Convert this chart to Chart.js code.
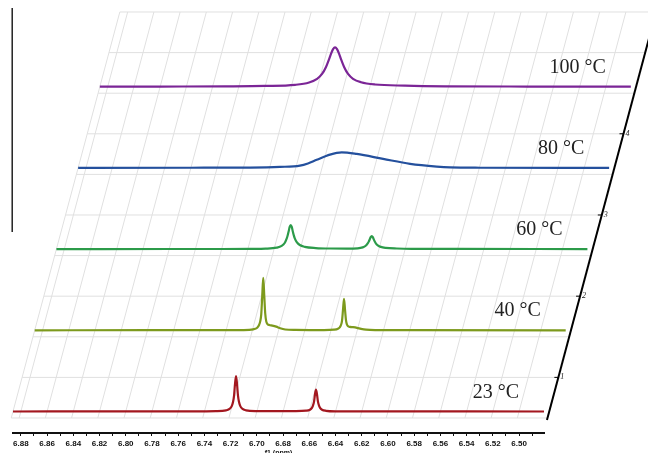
<!DOCTYPE html>
<html>
<head>
<meta charset="utf-8">
<script src="https://cdn.jsdelivr.net/npm/chart.js@4.4.1/dist/chart.umd.min.js"></script>
<style>
  html, body { margin: 0; padding: 0; background: #fff; overflow: hidden; }
  canvas { display: block; }
</style>
</head>
<body>
<canvas id="nmrChart" width="648" height="462"></canvas>
<script>
// temperature labels, bottom to top
const temps = ["23 °C", "40 °C", "60 °C", "80 °C", "100 °C"];

// spectra: chemical shift (ppm) and intensity (one unit = one stack step)
const ppm23 = [6.886, 6.80, 6.75, 6.7312, 6.7235, 6.7205, 6.7190, 6.7182, 6.7174, 6.7167, 6.7159, 6.7151, 6.7144, 6.7136, 6.7128, 6.7113, 6.7083, 6.7006, 6.685, 6.6702, 6.6625, 6.6595, 6.6580, 6.6572, 6.6564, 6.6557, 6.6549, 6.6541, 6.6534, 6.6526, 6.6518, 6.6503, 6.6473, 6.6396, 6.60, 6.481];
const int23 = [0, 0.0005, 0.0015, 0.004, 0.014, 0.036, 0.073, 0.116, 0.196, 0.334, 0.437, 0.334, 0.196, 0.116, 0.073, 0.036, 0.014, 0.005, 0.004, 0.004, 0.0095, 0.022, 0.045, 0.072, 0.121, 0.206, 0.27, 0.206, 0.121, 0.072, 0.045, 0.022, 0.0085, 0.002, 0.0005, 0];

const ppm40 = [6.886, 6.80, 6.75, 6.7270, 6.7193, 6.7163, 6.7148, 6.7140, 6.7132, 6.7125, 6.7117, 6.7109, 6.7102, 6.7094, 6.7086, 6.7071, 6.7048, 6.7018, 6.6987, 6.6949, 6.6873, 6.676, 6.6654, 6.6577, 6.6547, 6.6532, 6.6524, 6.6516, 6.6509, 6.6501, 6.6493, 6.6486, 6.6478, 6.6470, 6.6455, 6.6432, 6.6402, 6.6371, 6.6333, 6.6257, 6.60, 6.481];
const int40 = [0, 0.001, 0.002, 0.003, 0.012, 0.032, 0.068, 0.11, 0.2, 0.41, 0.645, 0.42, 0.21, 0.11, 0.08, 0.065, 0.058, 0.045, 0.025, 0.01, 0.004, 0.003, 0.003, 0.008, 0.02, 0.04, 0.065, 0.12, 0.245, 0.387, 0.25, 0.125, 0.07, 0.05, 0.042, 0.038, 0.03, 0.018, 0.008, 0.003, 0.001, 0];

const ppm60 = [6.886, 6.80, 6.76, 6.7378, 6.7264, 6.7180, 6.7142, 6.7119, 6.7104, 6.7096, 6.7088, 6.7081, 6.7073, 6.7065, 6.7058, 6.7050, 6.7042, 6.7027, 6.7004, 6.6966, 6.6882, 6.6768, 6.6646, 6.6562, 6.6524, 6.6501, 6.6486, 6.6478, 6.6470, 6.6463, 6.6455, 6.6447, 6.6440, 6.6432, 6.6424, 6.6409, 6.6386, 6.6348, 6.6264, 6.6150, 6.58, 6.481];
const int60 = [0, 0.001, 0.001, 0.003, 0.0057, 0.0175, 0.039, 0.075, 0.128, 0.170, 0.223, 0.273, 0.296, 0.273, 0.223, 0.172, 0.132, 0.085, 0.05, 0.028, 0.013, 0.007, 0.006, 0.0095, 0.021, 0.041, 0.069, 0.092, 0.121, 0.148, 0.16, 0.148, 0.121, 0.093, 0.071, 0.046, 0.027, 0.015, 0.007, 0.003, 0.002, 0];

const ppm80 = [6.886, 6.80, 6.7549, 6.7320, 6.7168, 6.7107, 6.7040, 6.6939, 6.6850, 6.6735, 6.6534, 6.6328, 6.6125, 6.6023, 6.5794, 6.481];
const int80 = [0, 0.002, 0.004, 0.012, 0.028, 0.055, 0.10, 0.164, 0.192, 0.172, 0.111, 0.05, 0.016, 0.006, 0.002, 0];

const ppm100 = [6.886, 6.84, 6.7905, 6.7600, 6.7371, 6.7264, 6.7203, 6.7165, 6.7135, 6.7112, 6.7097, 6.7081, 6.7066, 6.7051, 6.7035, 6.7020, 6.6997, 6.6967, 6.6929, 6.6868, 6.6761, 6.6532, 6.6227, 6.56, 6.481];
const int100 = [0, 0.002, 0.004, 0.009, 0.023, 0.052, 0.097, 0.157, 0.243, 0.336, 0.405, 0.462, 0.485, 0.462, 0.405, 0.336, 0.243, 0.157, 0.097, 0.055, 0.027, 0.013, 0.005, 0.002, 0];

const spectraPpm = [ppm23, ppm40, ppm60, ppm80, ppm100];
const spectraInt = [int23, int40, int60, int80, int100];
const colors = ["#a3171f", "#7d9a1d", "#2c9b4a", "#24509d", "#7b2596"];

// axes
const ppmTicks = [6.88, 6.87, 6.86, 6.85, 6.84, 6.83, 6.82, 6.81, 6.80, 6.79, 6.78, 6.77, 6.76, 6.75, 6.74, 6.73, 6.72, 6.71, 6.70, 6.69, 6.68, 6.67, 6.66, 6.65, 6.64, 6.63, 6.62, 6.61, 6.60, 6.59, 6.58, 6.57, 6.56, 6.55, 6.54, 6.53, 6.52, 6.51, 6.50, 6.49];
const gridPpm = [6.886, 6.88, 6.86, 6.84, 6.82, 6.80, 6.78, 6.76, 6.74, 6.72, 6.70, 6.68, 6.66, 6.64, 6.62, 6.60, 6.58, 6.56, 6.54, 6.52, 6.50];
const gridDepth = [-0.08, 0.42, 0.92, 1.42, 1.92, 2.42, 2.92, 3.42, 3.92, 4.42, 4.92];
const depthTicks = ["1", "2", "3", "4"];

const PPM_MIN = 6.481, PPM_MAX = 6.886;
const SKEW = 0.016559;     // ppm shift per stack step
const AXIS_PPM = 6.477;    // slanted depth axis
const skew = (ppm, d) => ppm - d * SKEW;

const datasets = [];

// skewed grid
gridPpm.forEach(g => {
  datasets.push({
    data: [{ x: skew(g, gridDepth[0]), y: gridDepth[0] }, { x: skew(g, gridDepth[gridDepth.length - 1]), y: gridDepth[gridDepth.length - 1] }],
    borderColor: "#e0e0e0", borderWidth: 1, order: 10
  });
});
gridDepth.forEach(d => {
  datasets.push({
    data: [{ x: skew(PPM_MAX, d), y: d }, { x: skew(AXIS_PPM, d), y: d }],
    borderColor: "#e0e0e0", borderWidth: 1, order: 10
  });
});

// spectra
spectraPpm.forEach((arr, i) => {
  datasets.push({
    label: temps[i],
    data: arr.map((p, k) => ({ x: skew(p, i), y: i + spectraInt[i][k] })),
    borderColor: colors[i], borderWidth: 2.2, cubicInterpolationMode: "monotone", order: 1
  });
});

// slanted depth axis and left intensity bar
datasets.push({
  data: [{ x: skew(AXIS_PPM, -0.105), y: -0.105 }, { x: skew(AXIS_PPM, 5.4), y: 5.4 }],
  borderColor: "#000", borderWidth: 2, order: 0
});
datasets.push({
  data: [{ x: 6.8866, y: 2.21 }, { x: 6.8866, y: 4.97 }],
  borderColor: "#222", borderWidth: 1.5, order: 0
});

datasets.forEach(ds => {
  ds.showLine = true;
  ds.pointRadius = 0;
  ds.clip = false;
});

const labelsPlugin = {
  id: "stackLabels",
  afterDatasetsDraw(chart) {
    const { ctx, scales } = chart;
    const xs = scales.x, ys = scales.y;
    ctx.save();
    ctx.fillStyle = "#222";
    ctx.font = '20px "Liberation Serif"';
    ctx.textAlign = "right";
    ctx.textBaseline = "middle";
    temps.forEach((t, i) => {
      ctx.fillText(t, xs.getPixelForValue(skew(6.50, i)), ys.getPixelForValue(i + 0.235));
    });
    // depth axis ticks
    ctx.strokeStyle = "#000";
    ctx.lineWidth = 1;
    ctx.font = 'italic 8px "Liberation Serif"';
    ctx.textAlign = "left";
    depthTicks.forEach((t, k) => {
      const d = gridDepth[2 * k + 1];
      const px = xs.getPixelForValue(skew(AXIS_PPM, d));
      const py = ys.getPixelForValue(d);
      ctx.beginPath();
      ctx.moveTo(px - 4, py);
      ctx.lineTo(px, py);
      ctx.stroke();
      ctx.fillText(t, px + 2, py);
    });
    ctx.restore();
  }
};

const ctx = document.getElementById("nmrChart").getContext("2d");
new Chart(ctx, {
  type: "scatter",
  data: { datasets: datasets },
  options: {
    responsive: false,
    animation: false,
    layout: { padding: { left: 13, right: 104, top: 5.5, bottom: 0 } },
    plugins: { legend: { display: false }, tooltip: { enabled: false } },
    scales: {
      x: {
        type: "linear",
        reverse: true,
        min: PPM_MIN,
        max: PPM_MAX,
        afterBuildTicks: scale => { scale.ticks = ppmTicks.map(v => ({ value: v })); },
        afterFit: scale => { scale.height = 29; },
        border: { display: true, color: "#111", width: 2 },
        grid: { drawOnChartArea: false, drawTicks: true, tickLength: 3, color: "#111" },
        ticks: {
          autoSkip: false,
          maxRotation: 0,
          padding: 3,
          color: "#111",
          font: { family: "Liberation Sans", size: 8, weight: "bold" },
          callback: v => (Math.round(v * 100) % 2 === 0 ? v.toFixed(2) : "")
        },
        title: {
          display: true,
          text: "f1 (ppm)",
          color: "#111",
          font: { family: "Liberation Sans", size: 7, weight: "bold" },
          padding: { top: 0, bottom: 5 }
        }
      },
      y: { display: false, min: -0.265, max: 5.0 }
    }
  },
  plugins: [labelsPlugin]
});
</script>
</body>
</html>
